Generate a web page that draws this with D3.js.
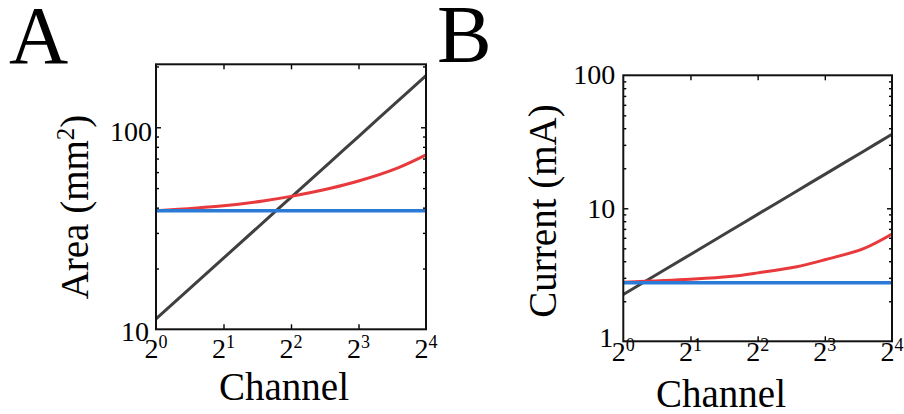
<!DOCTYPE html>
<html>
<head>
<meta charset="utf-8">
<script src="https://cdn.jsdelivr.net/npm/d3@7"></script>
</head>
<body style="margin:0">
<svg id="chart" width="904" height="414"></svg>
<script>
// ---------- data ----------
const channels     = [1, 2, 3, 4, 6, 8, 12, 16];
const areaGray     = [11.25, 22.5, 33.75, 45, 67.5, 90, 135, 180];
const areaRed      = [38.6, 40.9, 43.2, 45.5, 49.9, 54.2, 63.0, 73];
const areaBlue     = [38.6, 38.6, 38.6, 38.6, 38.6, 38.6, 38.6, 38.6];
const currentGray  = [2.25, 4.5, 6.75, 9, 13.5, 18, 27, 36];
const currentRed   = [2.78, 2.93, 3.07, 3.27, 3.64, 4.1, 5.0, 6.41];
const currentBlue  = [2.76, 2.76, 2.76, 2.76, 2.76, 2.76, 2.76, 2.76];
const xTickExps    = [0, 1, 2, 3, 4];
const areaTicks    = [10, 100];
const currentTicks = [1, 10, 100];
const panelLetters = ["A", "B"];

const colors = { gray: "#404040", red: "#e8393c", blue: "#2b7bd6" };

const svg = d3.select("#chart");

function panel(cfg) {
  const x = d3.scaleLog().base(2).domain([1, 16]).range([cfg.left, cfg.right]);
  const y = d3.scaleLog().domain(cfg.yDomain).range([cfg.bottom, cfg.top]);

  // ---- texts first, appended straight to the svg ----
  svg.append("text").attr("font-family", "Liberation Serif").attr("font-size", 82)
    .attr("x", cfg.letterX).attr("y", cfg.letterY).text(cfg.letter);

  cfg.yTicks.forEach((v, i) => {
    svg.append("text").attr("font-family", "Liberation Serif").attr("font-size", 28)
      .attr("x", cfg.left - cfg.yLabGap[i]).attr("y", y(v) + cfg.yLabDy[i])
      .attr("text-anchor", "end").text(String(v));
  });

  xTickExps.forEach(e => {
    const t = svg.append("text").attr("font-family", "Liberation Serif").attr("font-size", 28)
      .attr("x", x(Math.pow(2, e))).attr("y", cfg.xLabBase).attr("text-anchor", "middle");
    t.append("tspan").text("2");
    t.append("tspan").attr("font-size", 18).attr("dy", -10).text(String(e));
  });

  svg.append("text").attr("font-family", "Liberation Serif").attr("font-size", 39)
    .attr("x", cfg.xTitleX).attr("y", cfg.xTitleY).attr("text-anchor", "middle").text("Channel");

  const yt = svg.append("text").attr("font-family", "Liberation Serif").attr("font-size", 39)
    .attr("transform", `translate(${cfg.yTitleX},${cfg.yTitleY}) rotate(-90)`)
    .attr("text-anchor", "middle");
  cfg.yTitle(yt);

  // ---- axes with inward ticks ----
  const minor = [];
  for (let d = cfg.yDomain[0]; d < cfg.yDomain[1]; d *= 10) {
    for (let k = 2; k <= 9; k++) { const v = d * k; if (v < cfg.yDomain[1]) minor.push(v); }
  }
  const majorIn = cfg.yTicks.filter(v => v > cfg.yDomain[0] && v < cfg.yDomain[1]);
  const inner = xTickExps.map(e => Math.pow(2, e)).slice(1, -1);

  const mk = (axis, tr) => {
    const a = svg.append("g").attr("transform", tr).call(axis);
    a.select(".domain").remove();
    a.selectAll("line").attr("stroke", "#000").attr("stroke-width", 1.4);
  };
  mk(d3.axisBottom(x).tickValues(inner).tickSize(-5).tickFormat(""), `translate(0,${cfg.bottom})`);
  mk(d3.axisTop(x).tickValues(inner).tickSize(-5).tickFormat(""), `translate(0,${cfg.top})`);
  mk(d3.axisLeft(y).tickValues(majorIn).tickSize(-5).tickFormat(""), `translate(${cfg.left},0)`);
  mk(d3.axisLeft(y).tickValues(minor).tickSize(-3).tickFormat(""), `translate(${cfg.left},0)`);
  mk(d3.axisRight(y).tickValues(majorIn).tickSize(-5).tickFormat(""), `translate(${cfg.right},0)`);
  mk(d3.axisRight(y).tickValues(minor).tickSize(-3).tickFormat(""), `translate(${cfg.right},0)`);

  // ---- lines ----
  const line = d3.line().x((d, i) => x(channels[i])).y(d => y(d)).curve(d3.curveCatmullRom.alpha(0.5));
  svg.append("path").datum(cfg.gray).attr("d", line).attr("fill", "none")
    .attr("stroke", colors.gray).attr("stroke-width", 3);
  svg.append("path").datum(cfg.red).attr("d", line).attr("fill", "none")
    .attr("stroke", colors.red).attr("stroke-width", 3);
  svg.append("path").datum(cfg.blue).attr("d", line).attr("fill", "none")
    .attr("stroke", colors.blue).attr("stroke-width", 3.5);

  // ---- frame ----
  svg.append("rect").attr("x", cfg.left).attr("y", cfg.top)
    .attr("width", cfg.right - cfg.left).attr("height", cfg.bottom - cfg.top)
    .attr("fill", "none").attr("stroke", "#111").attr("stroke-width", 2);
}

panel({
  letter: panelLetters[0], letterX: 9, letterY: 63,
  left: 156, right: 426, top: 64.3, bottom: 329.3,
  yDomain: [10, 205], yTicks: areaTicks, yLabGap: [7, 4], yLabDy: [12, 14],
  gray: areaGray, red: areaRed, blue: areaBlue,
  xLabBase: 358, xTitleX: 284, xTitleY: 400,
  yTitleX: 88, yTitleY: 207,
  yTitle: t => {
    t.append("tspan").text("Area (mm");
    t.append("tspan").attr("font-size", 25).attr("dy", -14).text("2");
    t.append("tspan").attr("dy", 14).text(")");
  }
});

panel({
  letter: panelLetters[1], letterX: 437, letterY: 62,
  left: 623.3, right: 892, top: 75.3, bottom: 341.3,
  yDomain: [1, 100], yTicks: currentTicks, yLabGap: [10, 8, 8], yLabDy: [6, 10, 9],
  gray: currentGray, red: currentRed, blue: currentBlue,
  xLabBase: 361, xTitleX: 721, xTitleY: 407,
  yTitleX: 556, yTitleY: 211,
  yTitle: t => { t.text("Current (mA)"); }
});
</script>
</body>
</html>
